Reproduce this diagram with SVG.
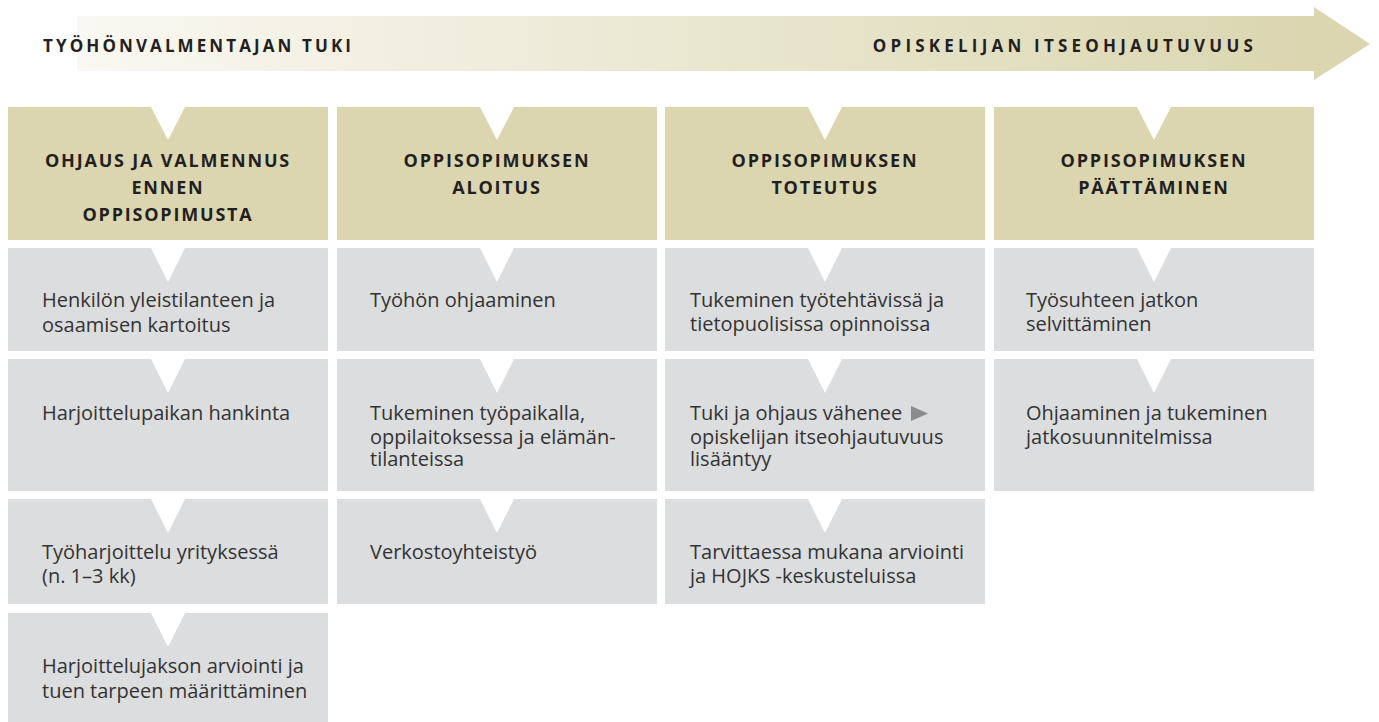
<svg xmlns="http://www.w3.org/2000/svg" width="1379" height="722" viewBox="0 0 1379 722">
<defs>
<linearGradient id="ag" x1="77" y1="0" x2="1314" y2="0" gradientUnits="userSpaceOnUse">
<stop offset="0" stop-color="#f9f8f2"/>
<stop offset="1" stop-color="#dbd6b0"/>
</linearGradient>
<style>
.hd{fill:#dbd6b0}
.cd{fill:#dcdddf}
.notch{fill:#ffffff}
.ht{font-family:"Open Sans","Liberation Sans",sans-serif;font-weight:700;font-size:18px;letter-spacing:1.8px;fill:#231f20;text-anchor:middle}
.tt{font-family:"Open Sans","Liberation Sans",sans-serif;font-weight:700;font-size:17px;letter-spacing:3.1px;fill:#231f20}
.bt{font-family:"Open Sans","Liberation Sans",sans-serif;font-size:20px;fill:#333333}
</style>
</defs>
<rect width="1379" height="722" fill="#ffffff"/>
<g id="progress-arrow">
<rect x="77" y="16" width="1238" height="55" fill="url(#ag)"/>
<polygon points="1314,7 1370,44 1314,80" fill="#dbd6b0"/>
<text class="tt" x="43" y="52">TYÖHÖNVALMENTAJAN TUKI</text>
<text class="tt" x="1257" y="52" text-anchor="end" style="letter-spacing:4.2px">OPISKELIJAN ITSEOHJAUTUVUUS</text>
</g>
<g id="col1-header">
<rect class="hd" x="8" y="107" width="320" height="133"/>
<polygon class="notch" points="151,107 185,107 168,140"/>
<text class="ht" x="168" y="167">OHJAUS JA VALMENNUS</text>
<text class="ht" x="168" y="194">ENNEN</text>
<text class="ht" x="168" y="221">OPPISOPIMUSTA</text>
</g>
<g id="col2-header">
<rect class="hd" x="337" y="107" width="320" height="133"/>
<polygon class="notch" points="480,107 514,107 497,140"/>
<text class="ht" x="497" y="167">OPPISOPIMUKSEN</text>
<text class="ht" x="497" y="194">ALOITUS</text>
</g>
<g id="col3-header">
<rect class="hd" x="665" y="107" width="320" height="133"/>
<polygon class="notch" points="808,107 842,107 825,140"/>
<text class="ht" x="825" y="167">OPPISOPIMUKSEN</text>
<text class="ht" x="825" y="194">TOTEUTUS</text>
</g>
<g id="col4-header">
<rect class="hd" x="994" y="107" width="320" height="133"/>
<polygon class="notch" points="1137,107 1171,107 1154,140"/>
<text class="ht" x="1154" y="167">OPPISOPIMUKSEN</text>
<text class="ht" x="1154" y="194">PÄÄTTÄMINEN</text>
</g>
<g id="c1r1">
<rect class="cd" x="8" y="248" width="320" height="103"/>
<polygon class="notch" points="151,248 185,248 168,282"/>
<text class="bt" x="42" y="307">Henkilön yleistilanteen ja</text>
<text class="bt" x="42" y="332">osaamisen kartoitus</text>
</g>
<g id="c1r2">
<rect class="cd" x="8" y="359" width="320" height="132"/>
<polygon class="notch" points="151,359 185,359 168,393"/>
<text class="bt" x="42" y="420">Harjoittelupaikan hankinta</text>
</g>
<g id="c1r3">
<rect class="cd" x="8" y="499" width="320" height="105"/>
<polygon class="notch" points="151,499 185,499 168,533"/>
<text class="bt" x="42" y="559">Työharjoittelu yrityksessä</text>
<text class="bt" x="42" y="583">(n. 1–3 kk)</text>
</g>
<g id="c1r4">
<rect class="cd" x="8" y="613" width="320" height="109"/>
<polygon class="notch" points="151,613 185,613 168,647"/>
<text class="bt" x="42" y="673">Harjoittelujakson arviointi ja</text>
<text class="bt" x="42" y="698">tuen tarpeen määrittäminen</text>
</g>
<g id="c2r1">
<rect class="cd" x="337" y="248" width="320" height="103"/>
<polygon class="notch" points="480,248 514,248 497,282"/>
<text class="bt" x="370" y="307">Työhön ohjaaminen</text>
</g>
<g id="c2r2">
<rect class="cd" x="337" y="359" width="320" height="132"/>
<polygon class="notch" points="480,359 514,359 497,393"/>
<text class="bt" x="370" y="420">Tukeminen työpaikalla,</text>
<text class="bt" x="370" y="444">oppilaitoksessa ja elämän-</text>
<text class="bt" x="370" y="466">tilanteissa</text>
</g>
<g id="c2r3">
<rect class="cd" x="337" y="499" width="320" height="105"/>
<polygon class="notch" points="480,499 514,499 497,533"/>
<text class="bt" x="370" y="559">Verkostoyhteistyö</text>
</g>
<g id="c3r1">
<rect class="cd" x="665" y="248" width="320" height="103"/>
<polygon class="notch" points="808,248 842,248 825,282"/>
<text class="bt" x="690" y="307">Tukeminen työtehtävissä ja</text>
<text class="bt" x="690" y="331">tietopuolisissa opinnoissa</text>
</g>
<g id="c3r2">
<rect class="cd" x="665" y="359" width="320" height="132"/>
<polygon class="notch" points="808,359 842,359 825,393"/>
<text class="bt" x="690" y="420">Tuki ja ohjaus vähenee</text>
<polygon points="911,406 928,413.5 911,421" fill="#8a8b8d"/>
<text class="bt" x="690" y="444">opiskelijan itseohjautuvuus</text>
<text class="bt" x="690" y="466">lisääntyy</text>
</g>
<g id="c3r3">
<rect class="cd" x="665" y="499" width="320" height="105"/>
<polygon class="notch" points="808,499 842,499 825,533"/>
<text class="bt" x="690" y="559">Tarvittaessa mukana arviointi</text>
<text class="bt" x="690" y="583">ja HOJKS -keskusteluissa</text>
</g>
<g id="c4r1">
<rect class="cd" x="994" y="248" width="320" height="103"/>
<polygon class="notch" points="1137,248 1171,248 1154,282"/>
<text class="bt" x="1026" y="307">Työsuhteen jatkon</text>
<text class="bt" x="1026" y="331">selvittäminen</text>
</g>
<g id="c4r2">
<rect class="cd" x="994" y="359" width="320" height="132"/>
<polygon class="notch" points="1137,359 1171,359 1154,393"/>
<text class="bt" x="1026" y="420">Ohjaaminen ja tukeminen</text>
<text class="bt" x="1026" y="444">jatkosuunnitelmissa</text>
</g>
<g id="connectors"/>
</svg>
